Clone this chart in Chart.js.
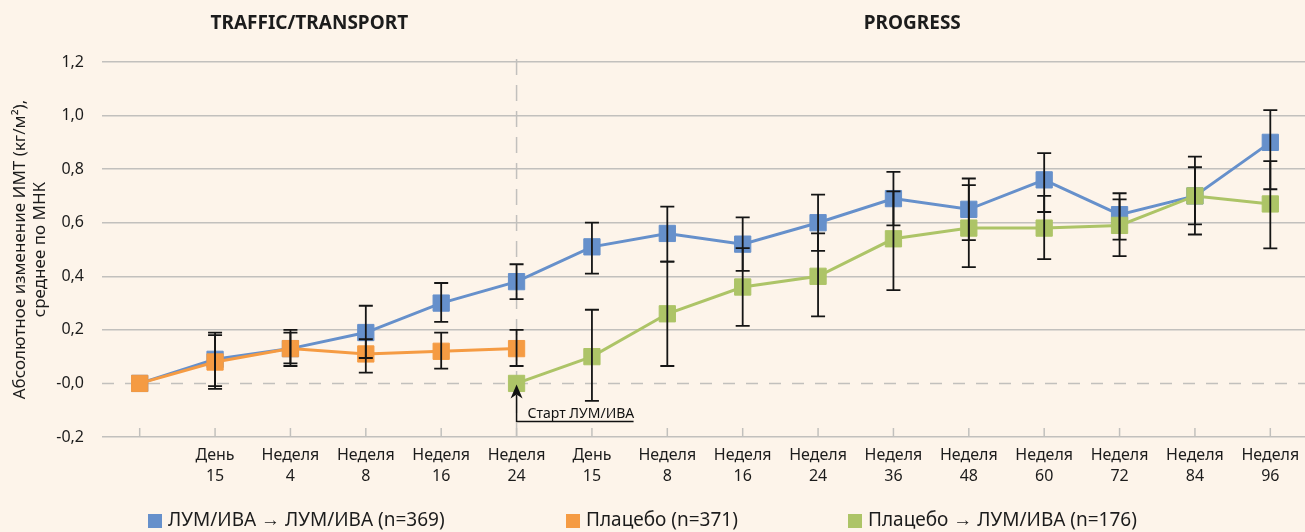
<!DOCTYPE html>
<html>
<head>
<meta charset="utf-8">
<script src="https://cdn.jsdelivr.net/npm/chart.js@4/dist/chart.umd.min.js"></script>
<style>
html, body { margin: 0; padding: 0; background: #fdf4ea; overflow: hidden; }
#wrap { width: 1310px; height: 532px; position: relative; }
</style>
</head>
<body>
<div id="wrap"><canvas id="bmiChart"></canvas></div>
<script>
// categories (two-line tick labels)
var categories = [
	['', ''], ['День', '15'], ['Неделя', '4'], ['Неделя', '8'], ['Неделя', '16'], ['Неделя', '24'],
	['День', '15'], ['Неделя', '8'], ['Неделя', '16'], ['Неделя', '24'], ['Неделя', '36'],
	['Неделя', '48'], ['Неделя', '60'], ['Неделя', '72'], ['Неделя', '84'], ['Неделя', '96']
];
var yTickLabels = ['-0,2', '-0,0', '0,2', '0,4', '0,6', '0,8', '1,0', '1,2'];
var sectionTitles = ['TRAFFIC/TRANSPORT', 'PROGRESS'];
var startIndex = 5; // where the open-label phase starts
var startLabel = 'Старт ЛУМ/ИВА';
var yTitle = ['Абсолютное изменение ИМТ (кг/м²),', 'среднее по МНК'];

// series: ЛУМ/ИВА -> ЛУМ/ИВА
var lumName = 'ЛУМ/ИВА → ЛУМ/ИВА (n=369)';
var lumValues = [0, 0.09, 0.13, 0.19, 0.30, 0.38, 0.51, 0.56, 0.52, 0.60, 0.69, 0.65, 0.76, 0.63, 0.70, 0.90];
var lumLow = [null, -0.02, 0.065, 0.095, 0.23, 0.315, 0.41, 0.455, 0.42, 0.495, 0.59, 0.535, 0.64, 0.537, 0.556, 0.725];
var lumHigh = [null, 0.19, 0.20, 0.29, 0.375, 0.445, 0.60, 0.66, 0.62, 0.705, 0.79, 0.765, 0.86, 0.71, 0.847, 1.02];

// series: Плацебо
var plaName = 'Плацебо (n=371)';
var plaValues = [0, 0.08, 0.13, 0.11, 0.12, 0.13, null, null, null, null, null, null, null, null, null, null];
var plaLow = [null, -0.01, 0.075, 0.04, 0.055, 0.065];
var plaHigh = [null, 0.18, 0.19, 0.165, 0.19, 0.20];

// series: Плацебо -> ЛУМ/ИВА
var swName = 'Плацебо → ЛУМ/ИВА (n=176)';
var swValues = [null, null, null, null, null, 0, 0.10, 0.26, 0.36, 0.40, 0.54, 0.58, 0.58, 0.59, 0.70, 0.67];
var swLow = [null, null, null, null, null, null, -0.065, 0.065, 0.215, 0.25, 0.348, 0.434, 0.464, 0.475, 0.594, 0.504];
var swHigh = [null, null, null, null, null, null, 0.275, 0.455, 0.505, 0.56, 0.717, 0.74, 0.70, 0.687, 0.807, 0.83];

var colBlue = '#6690cb', colOrange = '#f59b43', colGreen = '#adc467';
var textColor = '#1c1c1c';
var gridColor = '#c2c0bd';
var fontName = '"Noto Sans", "Open Sans", sans-serif';

function makeSet(name, values, color, order, low, high) {
	return {
		label: name,
		data: values,
		borderColor: color,
		backgroundColor: color,
		borderWidth: 3,
		pointStyle: 'rect',
		pointRadius: 11.5,
		pointHoverRadius: 11.5,
		pointBorderWidth: 1,
		pointBorderColor: color,
		pointBackgroundColor: color,
		tension: 0,
		order: order,
		errLow: low,
		errHigh: high
	};
}

var decor = {
	id: 'decor',
	beforeDatasetsDraw: function(chart) {
		var ctx = chart.ctx, area = chart.chartArea;
		var xs = chart.scales.x, ys = chart.scales.y;
		var y0 = ys.getPixelForValue(0);
		ctx.save();
		// dashed zero line
		ctx.strokeStyle = gridColor;
		ctx.lineWidth = 1.5;
		ctx.setLineDash([12, 11]);
		ctx.beginPath();
		ctx.moveTo(area.left, y0);
		ctx.lineTo(area.right, y0);
		ctx.stroke();
		// dashed divider at switch point
		var xd = xs.getPixelForValue(startIndex);
		ctx.setLineDash([16, 10]);
		ctx.beginPath();
		ctx.moveTo(xd, area.top - 3);
		ctx.lineTo(xd, area.bottom);
		ctx.stroke();
		ctx.setLineDash([]);
		// inward tick marks
		for (var i = 0; i < categories.length; i++) {
			var x = xs.getPixelForValue(i);
			ctx.beginPath();
			ctx.moveTo(x, area.bottom);
			ctx.lineTo(x, area.bottom - 9);
			ctx.stroke();
		}
		ctx.restore();
	},
	afterDatasetsDraw: function(chart) {
		var ctx = chart.ctx, area = chart.chartArea;
		var xs = chart.scales.x, ys = chart.scales.y;
		ctx.save();
		// error bars
		ctx.strokeStyle = '#151515';
		ctx.lineWidth = 1.8;
		chart.data.datasets.forEach(function(ds) {
			for (var i = 0; i < ds.errLow.length; i++) {
				if (ds.errLow[i] === null || ds.errLow[i] === undefined) continue;
				var x = xs.getPixelForValue(i);
				var yl = ys.getPixelForValue(ds.errLow[i]);
				var yh = ys.getPixelForValue(ds.errHigh[i]);
				ctx.beginPath();
				ctx.moveTo(x, yl); ctx.lineTo(x, yh);
				ctx.moveTo(x - 7, yl); ctx.lineTo(x + 7, yl);
				ctx.moveTo(x - 7, yh); ctx.lineTo(x + 7, yh);
				ctx.stroke();
			}
		});
		// start arrow
		var xa = xs.getPixelForValue(startIndex);
		var tip = ys.getPixelForValue(0) + 1;
		var base = tip + 37;
		ctx.strokeStyle = '#111';
		ctx.fillStyle = '#111';
		ctx.lineWidth = 1.5;
		ctx.beginPath();
		ctx.moveTo(xa, tip + 10);
		ctx.lineTo(xa, base);
		ctx.lineTo(xa + 117, base);
		ctx.stroke();
		ctx.beginPath();
		ctx.moveTo(xa, tip);
		ctx.lineTo(xa - 6, tip + 14);
		ctx.lineTo(xa, tip + 10);
		ctx.lineTo(xa + 6, tip + 14);
		ctx.closePath();
		ctx.fill();
		ctx.font = '14px ' + fontName;
		ctx.textAlign = 'left';
		ctx.textBaseline = 'alphabetic';
		ctx.fillText(startLabel, xa + 11, base - 3);
		ctx.restore();
	},
	afterDraw: function(chart) {
		var ctx = chart.ctx, area = chart.chartArea;
		var xs = chart.scales.x;
		var xd = xs.getPixelForValue(startIndex);
		ctx.save();
		// section titles
		ctx.fillStyle = textColor;
		ctx.font = 'bold 19px ' + fontName;
		ctx.textAlign = 'center';
		ctx.textBaseline = 'middle';
		ctx.fillText(sectionTitles[0], (area.left + xd) / 2, 24);
		ctx.fillText(sectionTitles[1], (xd + area.right) / 2, 24);
		// legend
		var items = [[lumName, colBlue, 148], [plaName, colOrange, 566], [swName, colGreen, 848]];
		ctx.font = '19px ' + fontName;
		ctx.textAlign = 'left';
		items.forEach(function(it) {
			ctx.fillStyle = it[1];
			ctx.fillRect(it[2], 514, 14, 14);
			ctx.fillStyle = textColor;
			ctx.fillText(it[0], it[2] + 20, 521);
		});
		ctx.restore();
	}
};

var ctx = document.getElementById('bmiChart').getContext('2d');
var myChart = new Chart(ctx, {
	type: 'line',
	data: {
		labels: categories,
		datasets: [
			makeSet(lumName, lumValues, colBlue, 2, lumLow, lumHigh),
			makeSet(plaName, plaValues, colOrange, 1, plaLow, plaHigh),
			makeSet(swName, swValues, colGreen, 0, swLow, swHigh)
		]
	},
	plugins: [decor],
	options: {
		responsive: true,
		maintainAspectRatio: false,
		animation: false,
		layout: { autoPadding: false, padding: { top: 62, left: 0, right: 2, bottom: 40 } },
		plugins: {
			legend: { display: false },
			tooltip: { enabled: false }
		},
		scales: {
			x: {
				type: 'category',
				offset: true,
				grid: { display: false },
				border: { display: false },
				ticks: {
					autoSkip: false,
					maxRotation: 0,
					padding: 0,
					color: textColor,
					font: { family: fontName, size: 16, lineHeight: 1.3 }
				},
				afterFit: function(scale) { scale.height = 55; }
			},
			y: {
				min: -0.2,
				max: 1.2,
				border: { display: false },
				grid: {
					drawTicks: false,
					lineWidth: 1.5,
					color: function(c) {
						return (c.tick && Math.abs(c.tick.value) < 1e-9) ? 'rgba(0,0,0,0)' : gridColor;
					}
				},
				ticks: {
					stepSize: 0.2,
					padding: 18,
					color: textColor,
					font: { family: fontName, size: 16 },
					callback: function(v, i) { return yTickLabels[i]; }
				},
				title: {
					display: true,
					text: yTitle,
					color: textColor,
					padding: { top: 10, bottom: 2 },
					font: { family: fontName, size: 17, lineHeight: 1.2 }
				},
				afterFit: function(scale) { scale.width = 102; }
			}
		}
	}
});
</script>
</body>
</html>
